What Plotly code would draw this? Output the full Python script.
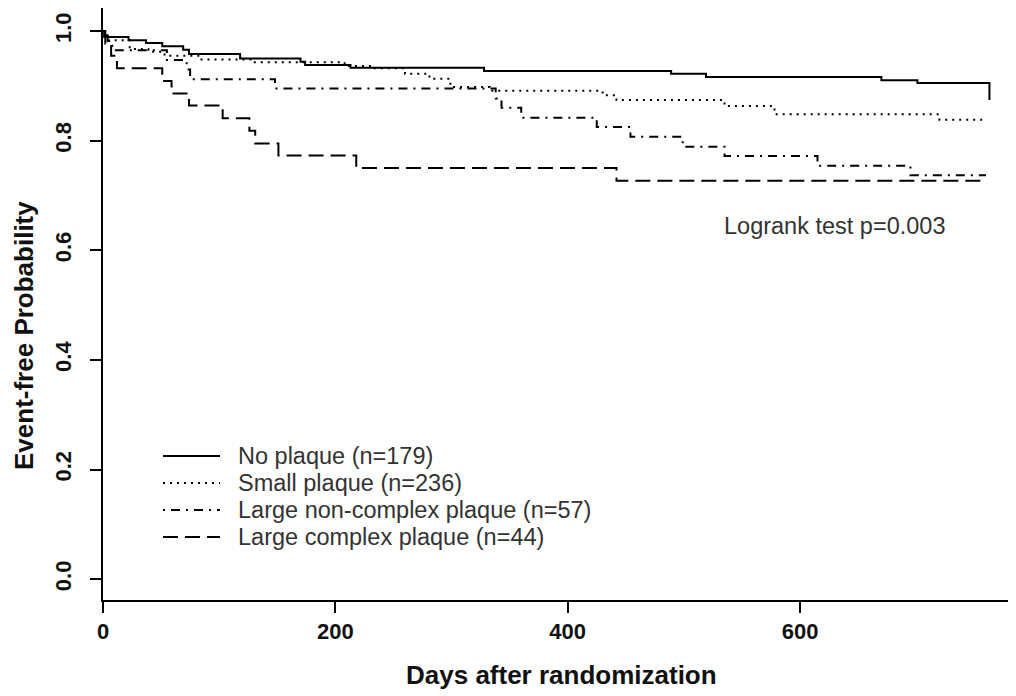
import plotly.graph_objects as go

# ---- data ----
labels = ["No plaque (n=179)", "Small plaque (n=236)",
          "Large non-complex plaque (n=57)", "Large complex plaque (n=44)"]

no_t = [0, 1, 22, 37, 51, 69, 74, 118, 170, 174, 213, 328, 489, 519, 670, 701, 763]
no_s = [1.0, 0.989, 0.983, 0.978, 0.972, 0.966, 0.958, 0.950, 0.944, 0.938, 0.933,
        0.927, 0.922, 0.916, 0.910, 0.905, 0.874]

sm_t = [0, 3, 23, 39, 53, 83, 127, 208, 233, 260, 281, 299, 333, 430, 442, 535, 578, 720, 760]
sm_s = [1.0, 0.983, 0.967, 0.962, 0.955, 0.948, 0.943, 0.936, 0.932, 0.922, 0.913,
        0.898, 0.891, 0.883, 0.874, 0.863, 0.848, 0.838, 0.836]

ln_t = [0, 4, 8, 55, 72, 75, 148, 338, 343, 360, 425, 454, 499, 535, 615, 695, 760]
ln_s = [1.0, 0.982, 0.965, 0.947, 0.930, 0.912, 0.895, 0.877, 0.860, 0.842, 0.825,
        0.807, 0.789, 0.772, 0.754, 0.737, 0.737]

lc_t = [0, 2, 7, 12, 51, 59, 74, 103, 126, 131, 151, 218, 442, 760]
lc_s = [1.0, 0.977, 0.955, 0.932, 0.909, 0.886, 0.864, 0.841, 0.818, 0.795, 0.773,
        0.750, 0.727, 0.727]

x_ticks = [0, 200, 400, 600]
y_ticks = [0.0, 0.2, 0.4, 0.6, 0.8, 1.0]

series = [(no_t, no_s), (sm_t, sm_s), (ln_t, ln_s), (lc_t, lc_s)]
dashes = ["solid", "2px,5px", "2px,6px,9px,6px", "15px,7px"]

# page geometry: the browser body has an 8px margin
OFF = 8
W, H = 1016 - OFF, 696 - OFF
# plot area in page pixels
L, R, T, B = 103, 1015, 8, 600
pw, ph = R - L, B - T

def px(xp):
    return (xp - L) / pw

def py(yp):
    return (B - yp) / ph

FONT = "Liberation Sans, Arial, sans-serif"

fig = go.Figure()
for (t, s), d, lab in zip(series, dashes, labels):
    fig.add_trace(go.Scatter(x=t, y=s, mode="lines", line_shape="hv",
                             line=dict(color="black", width=2, dash=d),
                             name=lab, showlegend=False, hoverinfo="skip"))

# manual legend (R style)
leg_rows = [456, 483, 510, 537]
for yy, d, lab in zip(leg_rows, dashes, labels):
    fig.add_shape(type="line", xref="paper", yref="paper",
                  x0=px(163), x1=px(220), y0=py(yy), y1=py(yy),
                  line=dict(color="black", width=2, dash=d))
    fig.add_annotation(text=lab, xref="paper", yref="paper", x=px(236), y=py(yy),
                       xanchor="left", yanchor="middle", showarrow=False,
                       font=dict(family=FONT, size=23.5, color="#333333"))

fig.add_annotation(text="Logrank test p=0.003", xref="paper", yref="paper",
                   x=px(834), y=py(226), xanchor="center", yanchor="middle",
                   showarrow=False, font=dict(family=FONT, size=23.5, color="#333333"))

fig.add_annotation(text="<b>Event-free Probability</b>", xref="paper", yref="paper",
                   x=px(24), y=py(336), xanchor="center", yanchor="middle",
                   textangle=-90, showarrow=False,
                   font=dict(family=FONT, size=26, color="#111111"))
fig.add_annotation(text="<b>Days after randomization</b>", xref="paper", yref="paper",
                   x=px(561), y=py(675), xanchor="center", yanchor="middle",
                   showarrow=False, font=dict(family=FONT, size=26, color="#111111"))

fig.update_layout(
    width=W, height=H,
    margin=dict(l=L - OFF, r=W - (R - OFF), t=T - OFF, b=H - (B - OFF), pad=0),
    paper_bgcolor="white", plot_bgcolor="white",
    showlegend=False,
    font=dict(family=FONT, color="#111111"),
)
fig.update_xaxes(range=[0, 785], tickvals=x_ticks, ticktext=[str(v) for v in x_ticks],
                 ticks="outside", ticklen=11, tickwidth=2, tickcolor="black",
                 showline=True, linewidth=2, linecolor="black", mirror=True,
                 showgrid=False, zeroline=False, automargin=False,
                 tickfont=dict(family=FONT, size=22, color="#111111", weight="bold"))
fig.update_yaxes(range=[-0.038, 1.042], tickvals=y_ticks,
                 ticktext=[f"{v:.1f}" for v in y_ticks], tickangle=-90,
                 ticks="outside", ticklen=11, tickwidth=2, tickcolor="black",
                 showline=True, linewidth=2, linecolor="black", mirror=True,
                 showgrid=False, zeroline=False, automargin=False,
                 ticklabelstandoff=10,
                 tickfont=dict(family=FONT, size=22, color="#111111", weight="bold"))

fig.write_html("out.html")
